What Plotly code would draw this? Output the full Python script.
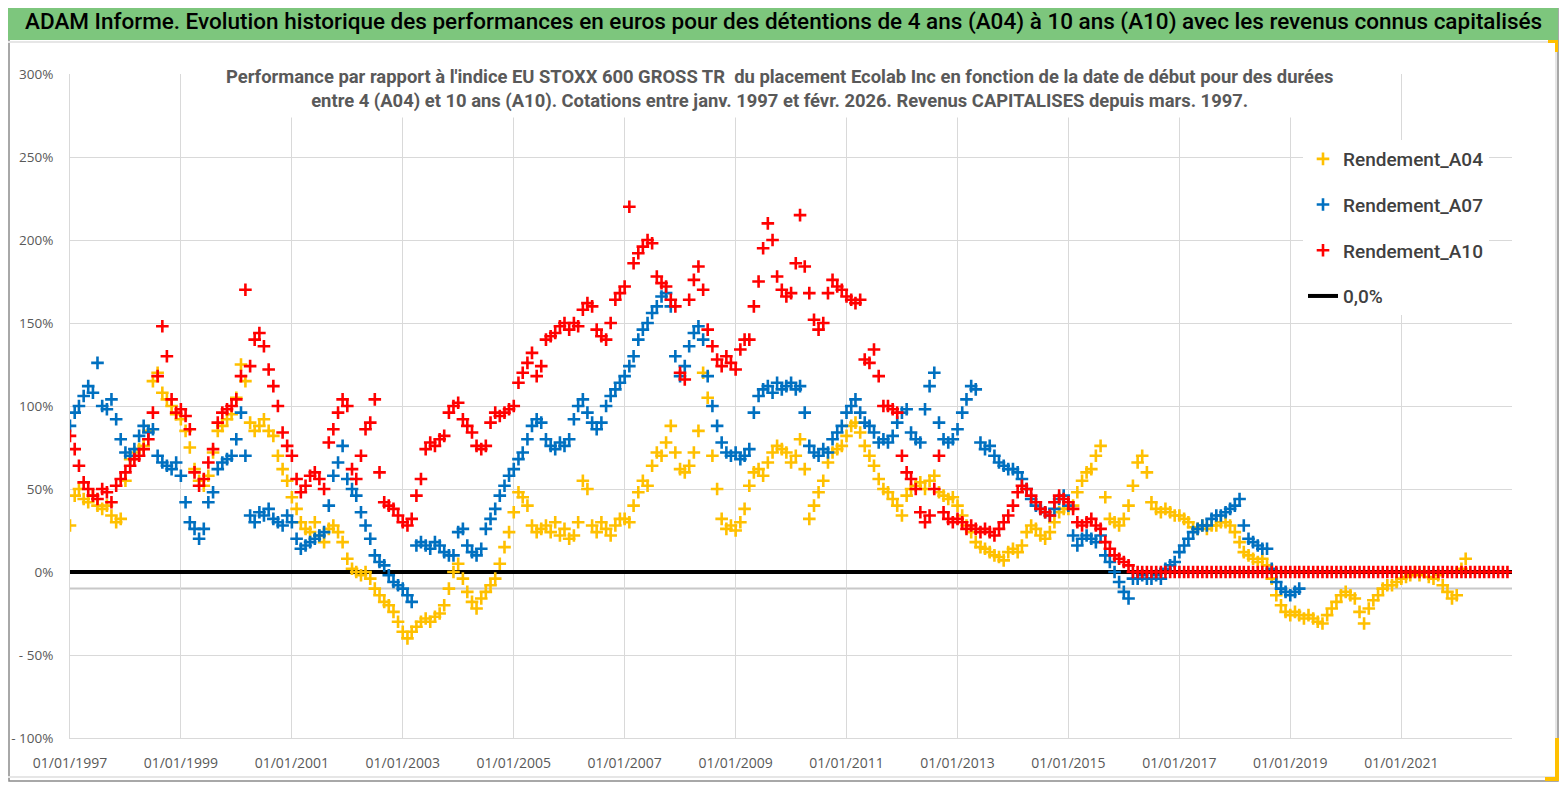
import pandas
import plotly.graph_objects as go

# Monthly readings of each series (%), first value = January 1997
A04 = [
    28, 46, 50, 44, 42, 46, 40, 38, 40, 34, 30, 32,
    55, 68, 72, 74, 76, 85, 115, 120, 108, 104, 100, 95,
    92, 85, 75, 62, 55, 52, 58, 72, 85, 88, 92, 95,
    105, 125, 115, 90, 85, 88, 92, 85, 82, 70, 62, 55,
    45, 38, 30, 26, 24, 30, 22, 18, 26, 28, 24, 18,
    8, 2, 0, -2, 0, -4, -10, -14, -18, -20, -24, -30,
    -36, -40, -36, -33, -30, -28, -30, -27, -25, -20, -10, 0,
    5, -4, -12, -18, -22, -16, -12, -8, -4, 5, 15, 24,
    36, 48, 45, 40, 28, 24, 26, 28, 24, 30, 22, 26,
    20, 22, 30, 55, 50, 28, 24, 30, 26, 22, 28, 32,
    32, 30, 40, 48, 55, 52, 64, 72, 70, 78, 88, 72,
    62, 60, 64, 72, 85, 120, 105, 70, 50, 32, 26, 28,
    25, 30, 38, 52, 60, 62, 58, 66, 72, 76, 74, 72,
    66, 70, 80, 62, 32, 40, 48, 55, 66, 72, 74, 76,
    82, 88, 90, 84, 76, 70, 64, 56, 50, 48, 44, 40,
    34, 46, 50, 52, 54, 50, 55, 58, 48, 46, 44, 45,
    40, 34, 28, 24, 18, 15, 14, 12, 10, 9, 7, 12,
    14, 12, 16, 24, 28, 26, 22, 20, 24, 30, 36, 38,
    38, 40, 48, 55, 60, 62, 70, 76, 45, 32, 30, 28,
    32, 40, 52, 66, 70, 60, 42, 38, 36, 38, 36, 34,
    34, 32, 30, 27, 26, 28, 26, 28, 28, 30, 30, 28,
    24, 18, 12, 10, 8, 6, 8, 4, -4, -14, -20, -24,
    -26, -24, -26, -28, -26, -28, -30, -31, -26, -22, -18, -14,
    -12, -14, -16, -24, -31, -22, -17, -14, -10, -8, -8, -6,
    -4, -3, -2, 0, -2, 0, -3, -4, -2, -8, -12, -16,
    -14, 2, 8,
]

A07 = [
    88, 96, 100, 106, 112, 108, 126, 100, 98, 104, 92, 80,
    72, 70, 74, 82, 88, 84, 86, 70, 66, 64, 62, 66,
    58, 42, 30, 26, 20, 26, 42, 48, 62, 66, 68, 70,
    80, 96, 70, 34, 30, 36, 34, 38, 32, 30, 28, 34,
    30, 20, 14, 16, 18, 20, 22, 24, 40, 58, 66, 76,
    56, 50, 46, 36, 28, 20, 10, 6, 4, -2, -6, -8,
    -10, -14, -18, 16, 18, 16, 14, 18, 16, 12, 10, 10,
    24, 26, 16, 12, 10, 14, 26, 32, 38, 46, 52, 58,
    62, 68, 72, 80, 88, 92, 90, 80, 76, 74, 78, 76,
    80, 92, 100, 104, 96, 90, 86, 90, 100, 106, 110, 114,
    118, 124, 130, 140, 146, 150, 156, 160, 166, 168, 160, 130,
    118, 124, 136, 144, 148, 140, 118, 100, 88, 78, 72, 70,
    72, 68, 70, 74, 96, 106, 110, 112, 108, 114, 110, 112,
    114, 110, 112, 96, 76, 72, 70, 74, 72, 80, 84, 88,
    96, 100, 104, 96, 90, 88, 84, 78, 80, 78, 82, 90,
    96, 98, 84, 80, 78, 98, 112, 120, 90, 80, 78, 80,
    86, 96, 104, 112, 110, 78, 74, 76, 70, 66, 64, 62,
    62, 60, 56, 50, 44, 40, 38, 36, 34, 38, 44, 46,
    40, 22, 16, 20, 22, 20, 18, 22, 10, 6, 0, -6,
    -12, -16, -4, -4, -2, -4, -4, -2, -4, 2, 4, 6,
    12, 16, 20, 24, 26, 28, 28, 32, 34, 34, 36, 38,
    40, 44, 28, 20, 18, 16, 14, 14, 2, -6, -10, -12,
    -14, -12, -10,
]

A10 = [
    82, 74, 64, 54, 50, 46, 44, 50, 48, 42, 52, 56,
    60, 64, 68, 70, 74, 80, 96, 118, 148, 130, 104, 96,
    98, 94, 86, 60, 52, 56, 66, 74, 90, 96, 98, 100,
    104, 118, 170, 124, 140, 144, 136, 122, 112, 100, 84, 76,
    70, 56, 48, 52, 58, 60, 56, 50, 78, 86, 96, 104,
    100, 62, 56, 70, 86, 90, 104, 60, 42, 40, 38, 34,
    30, 28, 32, 46, 56, 74, 78, 76, 80, 82, 96, 100,
    102, 92, 88, 84, 76, 74, 76, 90, 96, 94, 96, 98,
    100, 114, 120, 126, 132, 118, 124, 140, 142, 144, 148, 150,
    146, 150, 148, 158, 162, 160, 146, 142, 140, 150, 164, 168,
    172, 220, 186, 192, 196, 200, 198, 178, 174, 172, 164, 160,
    120, 116, 164, 176, 184, 170, 146, 136, 128, 124, 130, 126,
    122, 134, 140, 140, 160, 175, 195, 210, 200, 178, 170, 166,
    168, 186, 215, 184, 168, 152, 146, 150, 168, 176, 172, 170,
    166, 164, 162, 164, 128, 126, 134, 118, 100, 100, 98, 96,
    70, 60, 56, 50, 36, 30, 34, 50, 70, 36, 32, 30,
    32, 30, 26, 28, 26, 24, 26, 24, 22, 26, 30, 34,
    40, 48, 52, 50, 46, 42, 38, 36, 34, 42, 46, 44,
    42, 38, 30, 28, 30, 32, 28, 26, 18, 14, 10, 8,
    6, 4, 0, 0, 0, 0, 0, 0, 0, 0, 0, 0,
    0, 0, 0, 0, 0, 0, 0, 0, 0, 0, 0, 0,
    0, 0, 0, 0, 0, 0, 0, 0, 0, 0, 0, 0,
    0, 0, 0, 0, 0, 0, 0, 0, 0, 0, 0, 0,
    0, 0, 0, 0, 0, 0, 0, 0, 0, 0, 0, 0,
    0, 0, 0, 0, 0, 0, 0, 0, 0, 0, 0, 0,
    0, 0, 0, 0, 0, 0, 0, 0, 0, 0, 0, 0,
]

ZERO_X = ["1997-01-01", "2022-12-31"]
ZERO_Y = [0, 0]
THRESHOLD = -10

X_TICKS = ["1997-01-01", "1999-01-01", "2001-01-01", "2003-01-01", "2005-01-01", "2007-01-01",
           "2009-01-01", "2011-01-01", "2013-01-01", "2015-01-01", "2017-01-01", "2019-01-01", "2021-01-01"]
X_LABELS = ["01/01/1997", "01/01/1999", "01/01/2001", "01/01/2003", "01/01/2005", "01/01/2007",
            "01/01/2009", "01/01/2011", "01/01/2013", "01/01/2015", "01/01/2017", "01/01/2019", "01/01/2021"]
Y_TICKS = [-100, -50, 0, 50, 100, 150, 200, 250, 300]
Y_LABELS = ["- 100%", "- 50%", "0%", "50%", "100%", "150%", "200%", "250%", "300%"]

TITLE = ("ADAM Informe. Evolution historique des performances en euros pour des détentions "
         "de 4 ans (A04) à 10 ans (A10) avec les revenus connus capitalisés")
SUBTITLE = ("Performance par rapport à l'indice EU STOXX 600 GROSS TR  du placement Ecolab Inc en fonction "
            "de la date de début pour des durées<br>entre 4 (A04) et 10 ans (A10). Cotations entre janv. 1997 "
            "et févr. 2026. Revenus CAPITALISES depuis mars. 1997.")

# The page body keeps an 8 px margin, so the figure is sized to fit the
# window exactly and the layout below is written in window pixels.
OFF_X, OFF_Y = 8, 8
W, H = 1567 - 2 * OFF_X, 790 - 2 * OFF_Y
PLOT_LEFT, PLOT_RIGHT, PLOT_TOP, PLOT_BOTTOM = 70, 1512, 74, 738  # window pixels
ML, MR = PLOT_LEFT - OFF_X, W - (PLOT_RIGHT - OFF_X)
MT, MB = PLOT_TOP - OFF_Y, H - (PLOT_BOTTOM - OFF_Y)


def fx(px):
    return (px - PLOT_LEFT) / (PLOT_RIGHT - PLOT_LEFT)


def fy(py):
    return (PLOT_BOTTOM - py) / (PLOT_BOTTOM - PLOT_TOP)


def months(values):
    return pandas.date_range("1997-01-01", periods=len(values), freq="MS")


fig = go.Figure()

# zero reference line first so the markers sit on top of it
fig.add_trace(go.Scatter(
    x=ZERO_X, y=ZERO_Y, mode="lines", name="0,0%",
    line=dict(color="black", width=4), legendrank=4, legendgroup="z",
))

series = [("Rendement_A04", A04, "#FFC000"), ("Rendement_A07", A07, "#0070C0"), ("Rendement_A10", A10, "#FF0000")]
for rank, (name, values, color) in enumerate(series, start=1):
    fig.add_trace(go.Scatter(
        x=months(values), y=values, mode="markers", name=name,
        marker=dict(symbol="cross-thin", size=9, line=dict(width=2.6, color=color)),
        legendrank=rank, legendgroup=name,
    ))

fig.update_xaxes(
    type="date",
    range=["1997-01-01", "2022-12-31"],
    tickvals=X_TICKS,
    ticktext=X_LABELS,
    showgrid=True,
    gridcolor="#d9d9d9",
    gridwidth=1,
    showline=True,
    linecolor="#d9d9d9",
    zeroline=False,
    ticks="",
    ticklabelstandoff=12,
    automargin=False,
    tickfont=dict(family="Open Sans", size=14, color="#595959"),
)

fig.update_yaxes(
    range=[-100, 300],
    tickvals=Y_TICKS,
    ticktext=Y_LABELS,
    showgrid=True,
    gridcolor="#d9d9d9",
    gridwidth=1,
    showline=True,
    linecolor="#d9d9d9",
    zeroline=False,
    ticks="",
    ticklabelstandoff=13,
    automargin=False,
    tickfont=dict(family="Open Sans", size=13.5, color="#595959"),
)

shapes = [
    # chart frame
    dict(type="rect", xref="paper", yref="paper", x0=fx(OFF_X + 1), x1=fx(1558), y0=fy(OFF_Y), y1=fy(781),
         line=dict(color="#8c8c8c", width=1.5), fillcolor="rgba(0,0,0,0)", layer="below"),
    # green title band
    dict(type="rect", xref="paper", yref="paper", x0=fx(OFF_X), x1=fx(1558), y0=fy(40), y1=fy(OFF_Y),
         line=dict(width=0), fillcolor="#7DC67D", layer="below"),
    # light inner border under the band
    dict(type="line", xref="paper", yref="paper", x0=fx(OFF_X), x1=fx(1556), y0=fy(42), y1=fy(42),
         line=dict(color="#e6e6e6", width=2)),
    dict(type="line", xref="paper", yref="paper", x0=fx(1556), x1=fx(1556), y0=fy(42), y1=fy(777),
         line=dict(color="#e6e6e6", width=2)),
    dict(type="line", xref="paper", yref="paper", x0=fx(OFF_X), x1=fx(1556), y0=fy(777), y1=fy(777),
         line=dict(color="#e6e6e6", width=2)),
    # -10% reference line
    dict(type="line", xref="paper", yref="y", x0=0, x1=1, y0=THRESHOLD, y1=THRESHOLD,
         line=dict(color="#c8c8c8", width=2), layer="between"),
    # selection handles
    dict(type="rect", xref="paper", yref="paper", x0=fx(1548), x1=fx(1558), y0=fy(43), y1=fy(40),
         line=dict(width=0), fillcolor="#FFC000"),
    dict(type="rect", xref="paper", yref="paper", x0=fx(1555), x1=fx(1558), y0=fy(52), y1=fy(40),
         line=dict(width=0), fillcolor="#FFC000"),
    dict(type="rect", xref="paper", yref="paper", x0=fx(1555), x1=fx(1559), y0=fy(781), y1=fy(738),
         line=dict(width=0), fillcolor="#FFC000"),
    dict(type="rect", xref="paper", yref="paper", x0=fx(1545), x1=fx(1559), y0=fy(781), y1=fy(777),
         line=dict(width=0), fillcolor="#FFC000"),
]

annotations = [
    dict(text=TITLE, xref="paper", yref="paper", x=fx(783), y=fy(22), xanchor="center", yanchor="middle",
         showarrow=False, font=dict(family="Roboto", size=22.5, color="black", weight=500)),
    dict(text=SUBTITLE, xref="paper", yref="paper", x=fx(779), y=fy(89), xanchor="center", yanchor="middle",
         showarrow=False, align="center", bgcolor="white", borderpad=5,
         font=dict(family="Roboto", size=18.4, color="#595959", weight="bold")),
]

fig.update_layout(
    width=W,
    height=H,
    margin=dict(l=ML, r=MR, t=MT, b=MB, autoexpand=False),
    paper_bgcolor="white",
    plot_bgcolor="white",
    shapes=shapes,
    annotations=annotations,
    showlegend=True,
    legend=dict(
        x=fx(1303), y=fy(140), xanchor="left", yanchor="top",
        bgcolor="white", borderwidth=0,
        font=dict(family="Roboto", size=19, color="#404040", weight=500),
        tracegroupgap=18,
        itemsizing="trace",
    ),
)

fig.write_html("out.html")
